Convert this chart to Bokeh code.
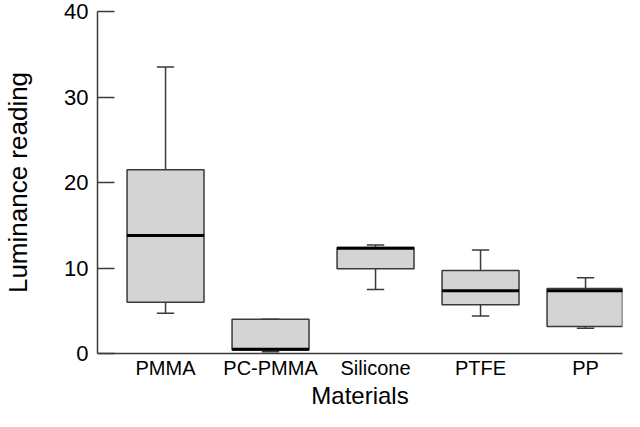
from bokeh.plotting import figure
from bokeh.models import FixedTicker, Range1d
from bokeh.embed import file_html
from bokeh.resources import INLINE

materials = ["PMMA", "PC-PMMA", "Silicone", "PTFE", "PP"]
lower_whisker = [4.7, 0.2, 7.5, 4.4, 2.95]
q1 = [6.0, 0.4, 9.9, 5.7, 3.15]
median = [13.8, 0.5, 12.3, 7.35, 7.35]
q3 = [21.5, 4.0, 12.4, 9.7, 7.6]
upper_whisker = [33.5, 4.0, 12.7, 12.1, 8.85]
y_ticks = [0, 10, 20, 30, 40]
x_title = "Materials"
y_title = "Luminance reading"

xs = list(range(1, len(materials) + 1))
box_w = 0.733
cap_w = 0.165

FONT = "Liberation Sans"
AX = "#3a3a3a"

p = figure(width=624, height=411, output_backend="svg", toolbar_location=None,
           x_range=Range1d(0.352, 5.352), y_range=Range1d(0, 40),
           min_border_left=10, min_border_right=2, min_border_top=11,
           min_border_bottom=10)
p.outline_line_color = None
p.xgrid.visible = False
p.ygrid.visible = False
p.background_fill_color = "white"
p.border_fill_color = "white"

# whiskers
p.segment(x0=xs, y0=q3, x1=xs, y1=upper_whisker, line_color=AX, line_width=1.5)
p.segment(x0=xs, y0=q1, x1=xs, y1=lower_whisker, line_color=AX, line_width=1.5)
# caps
p.segment(x0=[x - cap_w / 2 for x in xs], y0=upper_whisker,
          x1=[x + cap_w / 2 for x in xs], y1=upper_whisker, line_color=AX, line_width=1.5)
p.segment(x0=[x - cap_w / 2 for x in xs], y0=lower_whisker,
          x1=[x + cap_w / 2 for x in xs], y1=lower_whisker, line_color=AX, line_width=1.5)
# boxes
p.vbar(x=xs, width=box_w, top=q3, bottom=q1, fill_color="#d4d4d4",
       line_color=AX, line_width=1.5)
# medians
p.segment(x0=[x - box_w / 2 for x in xs], y0=median,
          x1=[x + box_w / 2 for x in xs], y1=median, line_color="black", line_width=3)

# axes
xa = p.xaxis[0]
xa.ticker = FixedTicker(ticks=xs)
xa.major_label_overrides = {x: m for x, m in zip(xs, materials)}
xa.major_tick_line_color = None
xa.minor_tick_line_color = None
xa.major_tick_out = 0
xa.major_tick_in = 0
xa.axis_line_color = AX
xa.axis_line_width = 1.5
xa.major_label_text_font = FONT
xa.major_label_text_font_size = "20px"
xa.major_label_text_color = "black"
xa.major_label_standoff = 3
xa.axis_label = x_title
xa.axis_label_text_font = FONT
xa.axis_label_text_font_size = "24px"
xa.axis_label_text_font_style = "normal"
xa.axis_label_text_color = "black"
xa.axis_label_standoff = 0

ya = p.yaxis[0]
ya.ticker = FixedTicker(ticks=y_ticks)
ya.minor_tick_line_color = None
ya.major_tick_in = 17
ya.major_tick_out = 0
ya.major_tick_line_color = AX
ya.major_tick_line_width = 1.5
ya.axis_line_color = AX
ya.axis_line_width = 1.5
ya.major_label_text_font = FONT
ya.major_label_text_font_size = "22px"
ya.major_label_text_color = "black"
ya.major_label_standoff = 9
ya.axis_label = y_title
ya.axis_label_text_font = FONT
ya.axis_label_text_font_size = "26px"
ya.axis_label_text_font_style = "normal"
ya.axis_label_text_color = "black"
ya.axis_label_standoff = 28

open("out.html", "w").write(file_html(p, INLINE))
